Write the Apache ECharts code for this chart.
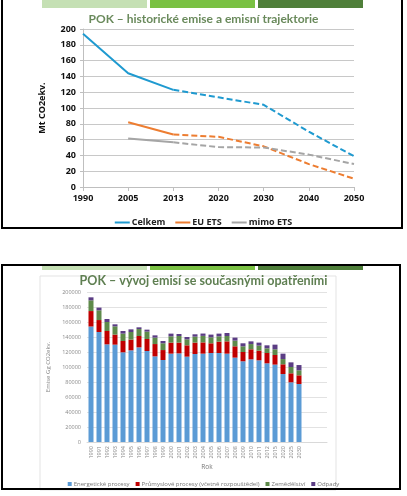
<!DOCTYPE html>
<html><head><meta charset="utf-8">
<script src="https://cdn.jsdelivr.net/npm/echarts@6/dist/echarts.min.js"></script>
<style>html,body{margin:0;padding:0;background:#fff}#c{width:407px;height:496px}</style>
</head><body><div id="c"></div>
<script>
// ---- Top chart: historical emissions and trajectories (Mt CO2ekv.)
const lineYears = ['1990','2005','2013','2020','2030','2040','2050'];
const celkemHist = [194, 144, 123, null, null, null, null];
const celkemProj = [null, null, 123, 113.5, 104, 70, 39];
const euEtsHist  = [null, 82, 66.5, null, null, null, null];
const euEtsProj  = [null, null, 66.5, 63.5, 51.5, 29, 10.5];
const mimoHist   = [null, 61.5, 56.5, null, null, null, null];
const mimoProj   = [null, null, 56.5, 50.5, 50, 41, 29];

// ---- Bottom chart: emissions with existing measures (Gg CO2ekv.)
const barYears = ['1990','1991','1992','1993','1994','1995','1996','1997','1998','1999','2000','2001','2002','2003','2004','2005','2006','2007','2008','2009','2010','2011','2012','2015','2020','2025','2030','','',''];
const energetika = [154000,146700,130200,129800,119600,122200,126200,121300,114200,109300,117800,118200,113800,117300,117800,118700,118700,117800,112500,107600,110200,108900,104900,103200,90600,79600,77300];
const prumysl    = [20600,15900,17800,13400,15100,14300,15100,16000,16400,13300,14700,14300,15100,15200,15000,12900,15100,16400,15100,12400,13400,12900,13800,12800,13000,12000,11600];
const zemedelstvi= [14300,13000,12000,11000,9800,10200,9300,9900,8600,9000,8400,8800,8000,8000,8700,8000,7100,7100,7600,7600,7000,6700,6200,7600,7000,8400,6700];
const odpady     = [4000,3600,4000,2700,3500,3500,2300,2600,3000,3100,3600,2700,3100,3100,3100,3600,3600,4000,4000,4000,3600,4000,4000,6200,7200,6200,7000];

const chart = echarts.init(document.getElementById('c'), null, {renderer:'canvas'});
const titleFont = 'Lato';
const lblFont = 'Open Sans';
const greenBars = (y, h) => [
  {type:'rect', shape:{x:42,y:y,width:105,height:h}, style:{fill:'#c5e0b4'}},
  {type:'rect', shape:{x:150,y:y,width:105,height:h}, style:{fill:'#7ac143'}},
  {type:'rect', shape:{x:258,y:y,width:105,height:h}, style:{fill:'#4f7f3a'}}
];
chart.setOption({
  animation:false,
  backgroundColor:'#fff',
  graphic:[
    ...greenBars(0, 8),
    {type:'rect', shape:{x:2,y:-5,width:400,height:233}, style:{fill:null, stroke:'#000', lineWidth:2}},
    ...greenBars(265, 5),
    {type:'rect', shape:{x:40,y:276,width:296,height:214}, style:{fill:null, stroke:'#e3e3e3', lineWidth:1}},
    {type:'rect', shape:{x:2,y:265,width:398,height:224}, style:{fill:null, stroke:'#000', lineWidth:2}}
  ],
  title:[
    {text:'POK – historické emise a emisní trajektorie', left:'center', top:8,
     textStyle:{fontFamily:titleFont, fontSize:12, fontWeight:'bold', color:'#6a8a5c'}},
    {text:'POK – vývoj emisí se současnými opatřeními', left:'center', top:269,
     textStyle:{fontFamily:titleFont, fontSize:12.5, fontWeight:'bold', color:'#5f7f52'}}
  ],
  legend:[
    {data:['Celkem','EU ETS','mimo ETS'], top:213, left:'center', itemWidth:15, itemHeight:2, itemGap:10,
     icon:'rect', textStyle:{fontFamily:lblFont, fontSize:9, fontWeight:'bold', color:'#222', padding:[0,0,0,-3]}},
    {data:['Energetické procesy','Průmyslové procesy (včetně rozpouštědel)','Zemědělství','Odpady'],
     top:476, left:'center', itemWidth:4, itemHeight:4, itemGap:6, icon:'rect',
     textStyle:{fontFamily:lblFont, fontSize:6, color:'#777', padding:[0,0,0,-3]}}
  ],
  grid:[
    {left:83, right:53, top:29, bottom:309},
    {left:87, right:80, top:292, bottom:54}
  ],
  xAxis:[
    {type:'category', gridIndex:0, data:lineYears, boundaryGap:false,
     axisLine:{lineStyle:{color:'#bfbfbf'}}, axisTick:{show:true, length:4, lineStyle:{color:'#bfbfbf'}},
     axisLabel:{fontFamily:lblFont, fontSize:9, fontWeight:'bold', color:'#111', margin:7}},
    {type:'category', gridIndex:1, data:barYears,
     axisLine:{lineStyle:{color:'#d9d9d9'}}, axisTick:{show:false},
     axisLabel:{interval:0, rotate:90, fontFamily:lblFont, fontSize:5.5, color:'#888', margin:4},
     name:'Rok', nameLocation:'middle', nameGap:22, nameTextStyle:{fontFamily:lblFont, fontSize:6.5, color:'#777'}}
  ],
  yAxis:[
    {type:'value', gridIndex:0, min:0, max:200, interval:20,
     axisLine:{show:true, lineStyle:{color:'#bfbfbf'}}, axisTick:{show:true, length:3, lineStyle:{color:'#bfbfbf'}},
     splitLine:{lineStyle:{color:'#c8c8c8'}},
     axisLabel:{fontFamily:lblFont, fontSize:9, fontWeight:'bold', color:'#111', margin:7},
     name:'Mt CO2ekv.', nameLocation:'middle', nameGap:36,
     nameTextStyle:{fontFamily:lblFont, fontSize:9, fontWeight:'bold', color:'#111'}},
    {type:'value', gridIndex:1, min:0, max:200000, interval:20000,
     axisLine:{show:false}, axisTick:{show:false},
     splitLine:{lineStyle:{color:'#e2e2e2'}},
     axisLabel:{fontFamily:lblFont, fontSize:5.5, color:'#888', margin:6, formatter:(v)=>String(v)},
     name:'Emise Gg CO2ekv.', nameLocation:'middle', nameGap:31,
     nameTextStyle:{fontFamily:lblFont, fontSize:6, color:'#888'}}
  ],
  series:[
    {name:'Celkem', type:'line', xAxisIndex:0, yAxisIndex:0, data:celkemHist, symbol:'none', color:'#1f9ad0', lineStyle:{width:2}},
    {name:'Celkem (výhled)', type:'line', xAxisIndex:0, yAxisIndex:0, data:celkemProj, symbol:'none', color:'#1f9ad0', lineStyle:{width:2, type:[6,3]}},
    {name:'EU ETS', type:'line', xAxisIndex:0, yAxisIndex:0, data:euEtsHist, symbol:'none', color:'#ed7d31', lineStyle:{width:2}},
    {name:'EU ETS (výhled)', type:'line', xAxisIndex:0, yAxisIndex:0, data:euEtsProj, symbol:'none', color:'#ed7d31', lineStyle:{width:2, type:[6,3]}},
    {name:'mimo ETS', type:'line', xAxisIndex:0, yAxisIndex:0, data:mimoHist, symbol:'none', color:'#a5a5a5', lineStyle:{width:2}},
    {name:'mimo ETS (výhled)', type:'line', xAxisIndex:0, yAxisIndex:0, data:mimoProj, symbol:'none', color:'#a5a5a5', lineStyle:{width:2, type:[6,3]}},
    {name:'Energetické procesy', type:'bar', stack:'g', xAxisIndex:1, yAxisIndex:1, data:energetika, color:'#5b9bd5', barWidth:5},
    {name:'Průmyslové procesy (včetně rozpouštědel)', type:'bar', stack:'g', xAxisIndex:1, yAxisIndex:1, data:prumysl, color:'#c00000', barWidth:5},
    {name:'Zemědělství', type:'bar', stack:'g', xAxisIndex:1, yAxisIndex:1, data:zemedelstvi, color:'#5e8a4a', barWidth:5},
    {name:'Odpady', type:'bar', stack:'g', xAxisIndex:1, yAxisIndex:1, data:odpady, color:'#5b3d84', barWidth:5}
  ]
});
</script></body></html>
